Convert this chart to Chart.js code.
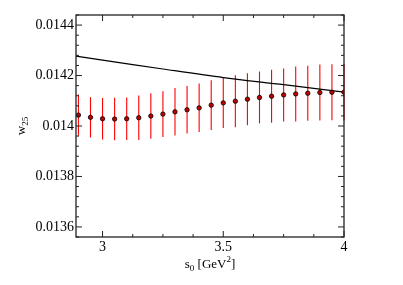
<!DOCTYPE html>
<html><head><meta charset="utf-8">
<script src="https://cdn.jsdelivr.net/npm/chart.js@4.4.0/dist/chart.umd.min.js"></script>
<style>html,body{margin:0;padding:0;background:#fff;}#wrap{width:403px;height:285px;}</style>
</head><body><div id="wrap"><canvas id="c" width="403" height="285"></canvas></div>
<script>
const s0 = [2.9,2.95,3.0,3.05,3.1,3.15,3.2,3.25,3.3,3.35,3.4,3.45,3.5,3.55,3.6,3.65,3.7,3.75,3.8,3.85,3.9,3.95,4.0];
const w25 = [0.0140433,0.0140343,0.0140287,0.0140276,0.0140287,0.0140327,0.0140394,0.0140472,0.0140562,0.0140642,0.0140720,0.0140827,0.0140917,0.0140984,0.0141063,0.0141130,0.0141181,0.0141232,0.0141272,0.0141299,0.0141327,0.0141339,0.0141339];
const w25Err = [0.000082,0.000080,0.000082,0.000084,0.000084,0.000088,0.000090,0.000091,0.000094,0.000094,0.000096,0.000099,0.000100,0.000103,0.000103,0.000103,0.000105,0.000105,0.000109,0.000109,0.000111,0.000111,0.000112];
const curveS0 = [2.89,3.0,3.25,3.5,3.75,4.0];
const curveW = [0.0142768,0.0142614,0.0142260,0.0141920,0.0141640,0.0141340];
const xTicks = [3,3.5,4];
const xTickLabels = ['3','3.5','4'];
const yTicks = [0.0136,0.0138,0.014,0.0142,0.0144];
const yTickLabels = ['0.0136','0.0138','0.014','0.0142','0.0144'];

const SERIF = "'Liberation Serif','DejaVu Serif',serif";

const framePlugin = {
  id: 'frame',
  beforeDatasetsDraw(chart) {
    const ctx = chart.ctx, xs = chart.scales.x, ys = chart.scales.y;
    ctx.save();
    ctx.strokeStyle = '#ff0000';
    ctx.lineWidth = 1.1;
    for (let i = 0; i < s0.length; i++) {
      const px = xs.getPixelForValue(s0[i]);
      ctx.beginPath();
      ctx.moveTo(px, ys.getPixelForValue(w25[i] + w25Err[i]));
      ctx.lineTo(px, ys.getPixelForValue(w25[i] - w25Err[i]));
      ctx.stroke();
    }
    ctx.restore();
  },
  afterDraw(chart) {
    const ctx = chart.ctx, a = chart.chartArea, xs = chart.scales.x, ys = chart.scales.y;
    ctx.save();
    ctx.strokeStyle = '#222';
    ctx.lineWidth = 1.3;
    ctx.strokeRect(a.left, a.top, a.right - a.left, a.bottom - a.top);
    ctx.lineWidth = 1;
    ctx.beginPath();
    for (let v = 3.0; v <= 4.0001; v += 0.125) {
      const px = xs.getPixelForValue(v);
      const major = Math.abs(v * 2 - Math.round(v * 2)) < 1e-6;
      const L = major ? 6 : 3;
      ctx.moveTo(px, a.bottom); ctx.lineTo(px, a.bottom - L);
      ctx.moveTo(px, a.top); ctx.lineTo(px, a.top + L);
    }
    for (let k = 0; k <= 22; k++) {
      const v = 0.01356 + k * 0.00004;
      const py = ys.getPixelForValue(v);
      const major = (k - 1) % 5 === 0;
      const L = major ? 6 : 3;
      ctx.moveTo(a.left, py); ctx.lineTo(a.left + L, py);
      ctx.moveTo(a.right, py); ctx.lineTo(a.right - L, py);
    }
    ctx.stroke();
    ctx.fillStyle = '#000';
    ctx.textBaseline = 'alphabetic';
    const parts = [['s',13,0],['0',9,3],[' [GeV',13,0],['2',9,-6],[']',13,0]];
    let total = 0;
    parts.forEach(p => { ctx.font = p[1] + 'px ' + SERIF; total += ctx.measureText(p[0]).width; });
    let x = (a.left + a.right) / 2 - total / 2;
    const by = 268;
    parts.forEach(p => { ctx.font = p[1] + 'px ' + SERIF; ctx.fillText(p[0], x, by + p[2]); x += ctx.measureText(p[0]).width; });
    ctx.translate(25, (a.top + a.bottom) / 2);
    ctx.rotate(-Math.PI / 2);
    const yp = [['w',13,0],['25',9,3]];
    total = 0;
    yp.forEach(p => { ctx.font = p[1] + 'px ' + SERIF; total += ctx.measureText(p[0]).width; });
    x = -total / 2;
    yp.forEach(p => { ctx.font = p[1] + 'px ' + SERIF; ctx.fillText(p[0], x, p[2]); x += ctx.measureText(p[0]).width; });
    ctx.restore();
  }
};

new Chart(document.getElementById('c'), {
  type: 'scatter',
  data: {
    datasets: [
      {
        label: 'w25',
        data: s0.map((v, i) => ({x: v, y: w25[i]})),
        showLine: false,
        pointRadius: 2.2,
        pointBackgroundColor: '#c00000',
        pointBorderColor: '#000',
        pointBorderWidth: 0.8,
        order: 0
      },
      {
        label: 'curve',
        data: curveS0.map((v, i) => ({x: v, y: curveW[i]})),
        showLine: true,
        borderColor: '#000',
        borderWidth: 1.2,
        pointRadius: 0,
        tension: 0.3,
        order: 1
      }
    ]
  },
  options: {
    responsive: false,
    animation: false,
    events: [],
    layout: {padding: {left: 0, right: 59, top: 15, bottom: 0}},
    plugins: {legend: {display: false}, tooltip: {enabled: false}},
    scales: {
      x: {
        type: 'linear', min: 2.89, max: 4.0,
        afterBuildTicks: s => { s.ticks = xTicks.map(v => ({value: v})); },
        afterFit: s => { s.height = 48; },
        grid: {display: false, drawTicks: false},
        border: {display: false},
        ticks: {callback: (v, i) => xTickLabels[i], color: '#000', font: {family: SERIF, size: 14}, padding: 2, maxRotation: 0, autoSkip: false}
      },
      y: {
        type: 'linear', min: 0.01356, max: 0.01444,
        afterBuildTicks: s => { s.ticks = yTicks.map(v => ({value: v})); },
        afterFit: s => { s.width = 76; },
        grid: {display: false, drawTicks: false},
        border: {display: false},
        ticks: {callback: (v, i) => yTickLabels[i], color: '#000', font: {family: SERIF, size: 14}, padding: 2, autoSkip: false}
      }
    }
  },
  plugins: [framePlugin]
});
</script>
</body></html>
